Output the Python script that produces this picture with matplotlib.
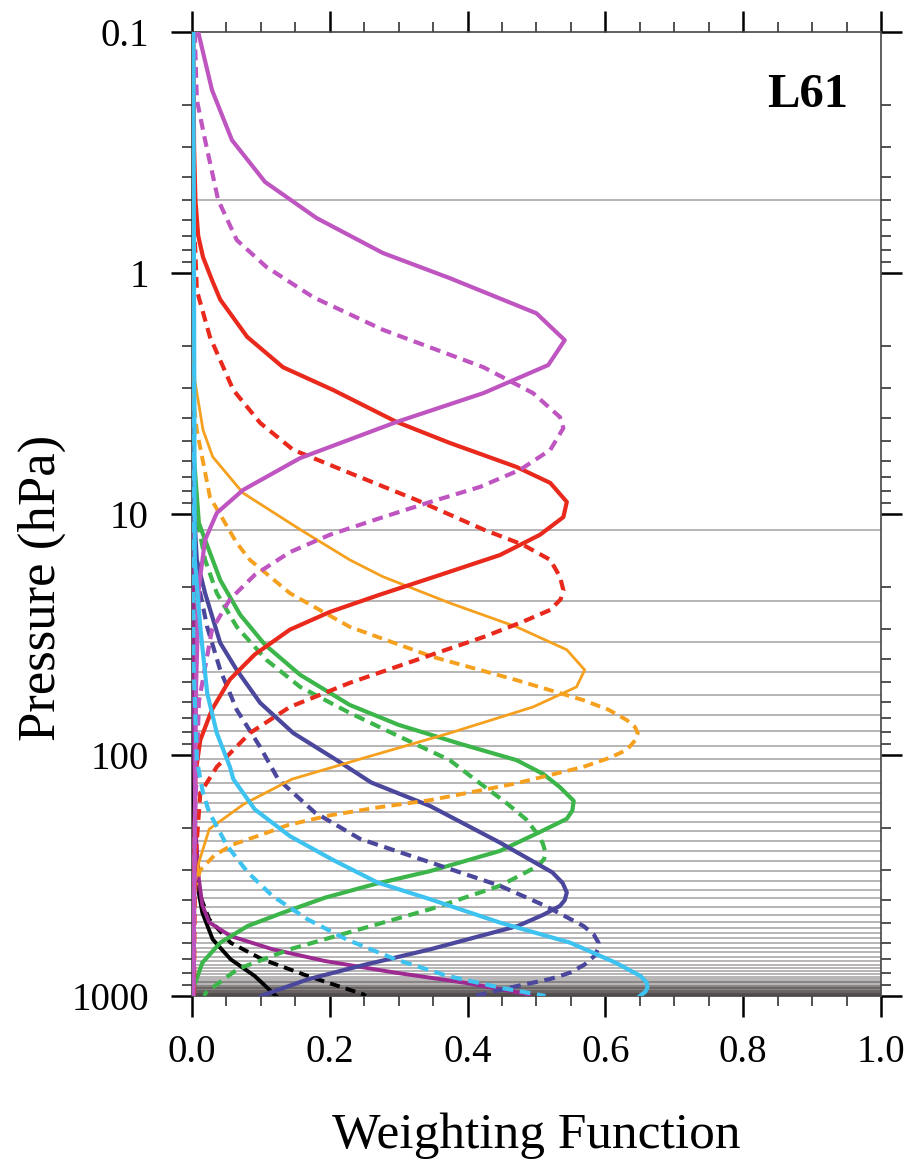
import matplotlib
matplotlib.use("Agg")
import matplotlib.pyplot as plt
from matplotlib.ticker import LogLocator, NullFormatter, MultipleLocator, FixedLocator, FixedFormatter

plt.rcParams["font.family"] = ["Liberation Serif", "DejaVu Serif"]

# model levels drawn as thin horizontal lines (hPa)
levels = [0.5, 11.6, 23.0, 34.0, 45.2, 56.4, 68.2, 79.5, 91.8, 103.9, 116.5, 130.7,
          143.3, 157.7, 172.9, 189.2, 206.8, 227.4, 250.2, 274.6, 302.0, 332.3, 363.3,
          393.1, 426.1, 461.2, 491.7, 523.7, 549.3, 576.2, 604.4, 634.0, 658.7, 686.9,
          713.7, 741.5, 765.3, 789.8, 810.4, 831.6, 852.5, 864, 876, 887, 897, 906, 914,
          922, 929, 936, 943, 950, 956, 962, 968, 974, 979, 984, 989, 994, 998]

# weighting functions: pressure (hPa) and weight
orchid_p = [0.1, 0.174, 0.281, 0.419, 0.592, 0.826, 1.05, 1.47, 1.90, 2.41, 3.15, 4.15, 5.86, 7.95, 9.9, 12.8, 20, 50, 200, 1000]
orchid_w = [0.009, 0.029, 0.058, 0.106, 0.181, 0.277, 0.374, 0.50, 0.541, 0.517, 0.423, 0.297, 0.157, 0.074, 0.036, 0.019, 0.010, 0.006, 0.004, 0.002]

orchid_d_p = [0.1, 0.191, 0.281, 0.498, 0.73, 0.944, 1.26, 1.72, 2.46, 3.15, 3.96, 4.40, 5.42, 6.56, 7.72, 8.93, 10.4, 12.2, 14.4, 17.9, 22.6, 30.2, 60, 200, 1000]
orchid_d_w = [0.004, 0.007, 0.019, 0.038, 0.065, 0.108, 0.176, 0.277, 0.423, 0.495, 0.534, 0.539, 0.52, 0.476, 0.418, 0.345, 0.273, 0.200, 0.142, 0.091, 0.055, 0.029, 0.010, 0.004, 0.002]

red_p = [0.1, 0.3, 0.5, 0.7, 0.859, 1.07, 1.29, 1.84, 2.46, 3.06, 4.15, 5.07, 6.38, 7.43, 8.91, 10.3, 12.2, 14.8, 17.9, 21.6, 25.5, 30.2, 38.3, 48.6, 64.8, 86.7, 120, 300, 1000]
red_w = [0.002, 0.003, 0.005, 0.009, 0.016, 0.029, 0.041, 0.08, 0.132, 0.205, 0.297, 0.374, 0.471, 0.52, 0.544, 0.539, 0.505, 0.447, 0.36, 0.273, 0.20, 0.142, 0.091, 0.055, 0.029, 0.012, 0.005, 0.003, 0.002]

red_d_p = [0.1, 0.6, 1.18, 1.84, 3.06, 4.19, 5.42, 6.76, 8.75, 11.6, 13.4, 15.5, 18.2, 20.7, 22.6, 25.0, 28.0, 32.4, 40.3, 50.2, 63.2, 81.1, 112, 144, 300, 1000]
red_d_w = [0.001, 0.003, 0.007, 0.026, 0.06, 0.099, 0.147, 0.229, 0.326, 0.423, 0.48, 0.52, 0.534, 0.539, 0.535, 0.52, 0.48, 0.423, 0.326, 0.229, 0.142, 0.084, 0.036, 0.012, 0.004, 0.003]

orange_p = [0.1, 1.29, 2.78, 4.48, 5.79, 8.18, 11.6, 15.5, 18.2, 23.4, 29.4, 36.6, 44.4, 52.2, 63.2, 81.1, 102, 126, 160, 203, 279, 360, 1000]
orange_w = [0.0, 0.002, 0.004, 0.016, 0.03, 0.074, 0.157, 0.229, 0.277, 0.374, 0.471, 0.544, 0.570, 0.558, 0.495, 0.374, 0.254, 0.145, 0.075, 0.025, 0.010, 0.003, 0.0]

orange_d_p = [0.1, 3.37, 4.48, 8.5, 13.2, 15.5, 21.3, 29.4, 39.2, 48.9, 59.2, 65.0, 71.6, 76.6, 81.1, 87.0, 95.3, 103, 112, 131, 140, 154, 165, 178, 195, 215, 235, 260, 300, 349, 1000]
orange_d_w = [0.0, 0.002, 0.007, 0.026, 0.065, 0.084, 0.142, 0.229, 0.35, 0.471, 0.568, 0.605, 0.631, 0.643, 0.647, 0.643, 0.631, 0.605, 0.568, 0.471, 0.42, 0.345, 0.27, 0.20, 0.14, 0.099, 0.06, 0.033, 0.012, 0.005, 0.0]

green_p = [0.1, 5.42, 10.9, 12.8, 18.8, 26.2, 34.9, 46.5, 62.0, 75.0, 90.0, 105, 120, 136, 155, 170, 184, 210, 250, 303, 344, 391, 451, 512, 601, 728, 909, 1000]
green_w = [0.0, 0.002, 0.010, 0.019, 0.041, 0.070, 0.106, 0.157, 0.229, 0.30, 0.39, 0.471, 0.51, 0.534, 0.554, 0.552, 0.544, 0.503, 0.447, 0.346, 0.264, 0.193, 0.132, 0.081, 0.041, 0.015, 0.003, 0.0]

green_d_p = [0.1, 8.75, 15.5, 21.3, 29.4, 40.3, 52.2, 66.9, 84.1, 105, 126, 157, 185, 210, 232, 254, 270, 288, 349, 436, 528, 640, 774, 969, 1000]
green_d_w = [0.0, 0.002, 0.019, 0.036, 0.065, 0.108, 0.157, 0.229, 0.302, 0.374, 0.41, 0.455, 0.485, 0.50, 0.509, 0.513, 0.511, 0.503, 0.447, 0.346, 0.244, 0.142, 0.066, 0.020, 0.018]

slate_p = [0.1, 8.75, 15.5, 21.3, 34.3, 44.4, 60.8, 81.1, 105, 130, 163, 231, 307, 340, 372, 400, 423, 460, 512, 640, 750, 853, 1000]
slate_w = [0.0, 0.002, 0.007, 0.019, 0.041, 0.065, 0.099, 0.147, 0.21, 0.26, 0.346, 0.447, 0.523, 0.538, 0.544, 0.541, 0.534, 0.51, 0.473, 0.346, 0.244, 0.168, 0.10]

slate_d_p = [0.1, 12.0, 18.2, 29.4, 44.4, 65.0, 92.7, 126, 173, 223, 279, 349, 423, 512, 555, 601, 640, 682, 740, 800, 850, 908, 1000]
slate_d_w = [0.0, 0.001, 0.007, 0.022, 0.041, 0.065, 0.099, 0.125, 0.178, 0.244, 0.346, 0.447, 0.513, 0.568, 0.583, 0.59, 0.589, 0.584, 0.57, 0.549, 0.52, 0.473, 0.41]

sky_p = [0.1, 15.5, 29.4, 55.3, 81.1, 112, 126, 168, 217, 271, 338, 397, 496, 601, 728, 826, 880, 923, 960, 1000]
sky_w = [0.002, 0.004, 0.012, 0.022, 0.036, 0.055, 0.06, 0.091, 0.142, 0.203, 0.269, 0.346, 0.447, 0.549, 0.615, 0.651, 0.66, 0.661, 0.658, 0.65]

sky_d_p = [0.1, 40, 105, 144, 173, 238, 307, 385, 481, 582, 704, 826, 923, 1000]
sky_d_w = [0.0, 0.002, 0.007, 0.016, 0.025, 0.051, 0.081, 0.117, 0.168, 0.224, 0.295, 0.371, 0.447, 0.513]

purple_p = [0.1, 100, 203, 328, 420, 495, 564, 640, 716, 800, 881, 985, 1000]
purple_w = [0.0, 0.003, 0.005, 0.010, 0.015, 0.025, 0.056, 0.117, 0.193, 0.295, 0.396, 0.488, 0.49]

black_p = [0.1, 200, 300, 349, 451, 582, 704, 826, 1000]
black_w = [0.0, 0.002, 0.005, 0.008, 0.015, 0.030, 0.056, 0.091, 0.122]

black_d_p = [0.1, 250, 372, 481, 601, 704, 826, 985, 1000]
black_d_w = [0.0, 0.003, 0.010, 0.025, 0.056, 0.102, 0.168, 0.249, 0.252]

x_ticks = [0.0, 0.2, 0.4, 0.6, 0.8, 1.0]
x_labels = ["0.0", "0.2", "0.4", "0.6", "0.8", "1.0"]
y_ticks = [0.1, 1, 10, 100, 1000]
y_labels = ["0.1", "1", "10", "100", "1000"]

fig = plt.figure(figsize=(9.12, 11.63), dpi=100)
ax = fig.add_axes([192 / 912, 167 / 1163, 689 / 912, 964 / 1163])

for lev in levels:
    ax.axhline(lev, color="#2c2424", alpha=0.4, lw=1.2, zorder=1)

dash = (0, (2.6, 1.6))
curves = [
    (black_p, black_w, "black", "-", 2.8),
    (black_d_p, black_d_w, "black", dash, 2.8),
    (purple_p, purple_w, "#9c2a91", "-", 2.8),
    (green_p, green_w, "#3cb54a", "-", 3.0),
    (green_d_p, green_d_w, "#3cb54a", dash, 3.0),
    (slate_p, slate_w, "#4b479c", "-", 3.0),
    (slate_d_p, slate_d_w, "#4b479c", dash, 3.0),
    (orange_p, orange_w, "#f5a01e", "-", 2.0),
    (orange_d_p, orange_d_w, "#f5a01e", dash, 2.8),
    (red_d_p, red_d_w, "#e8291c", dash, 3.0),
    (red_p, red_w, "#e8291c", "-", 3.0),
    (orchid_d_p, orchid_d_w, "#bf55c0", dash, 3.0),
    (orchid_p, orchid_w, "#bf55c0", "-", 3.0),
    (sky_d_p, sky_d_w, "#3ec2ef", dash, 3.0),
    (sky_p, sky_w, "#3ec2ef", "-", 3.0),
]
for p, w, c, ls, lw in curves:
    ax.plot(w, p, color=c, ls=ls, lw=lw, zorder=3)

ax.set_yscale("log")
ax.set_ylim(1000, 0.1)
ax.set_xlim(0, 1)

ax.yaxis.set_major_locator(FixedLocator(y_ticks))
ax.yaxis.set_major_formatter(FixedFormatter(y_labels))
ax.yaxis.set_minor_locator(LogLocator(base=10, subs=range(2, 10)))
ax.yaxis.set_minor_formatter(NullFormatter())
ax.xaxis.set_major_locator(FixedLocator(x_ticks))
ax.xaxis.set_major_formatter(FixedFormatter(x_labels))
ax.xaxis.set_minor_locator(MultipleLocator(0.05))

ax.tick_params(which="major", direction="out", length=15, width=1.8, color="black",
               top=True, right=True, labelsize=28)
ax.tick_params(which="minor", direction="out", length=7.5, width=1.2, color="#333333",
               top=True, right=True)
ax.tick_params(axis="y", which="major", pad=16)
ax.tick_params(axis="x", which="major", pad=12)

for s in ax.spines.values():
    s.set_color("#444444")
    s.set_linewidth(1.2)

ax.text(0.952, 0.922, "L61", transform=ax.transAxes, ha="right", va="baseline",
        fontsize=35, fontweight="bold")

fig.text(536 / 912, 15 / 1163, "Weighting Function", ha="center", va="baseline", fontsize=37)
fig.text(42 / 912, 1 - 588 / 1163, "Pressure (hPa)", ha="center", va="center",
         rotation=90, fontsize=38)

fig.savefig("out.png", dpi=100, facecolor="white")
